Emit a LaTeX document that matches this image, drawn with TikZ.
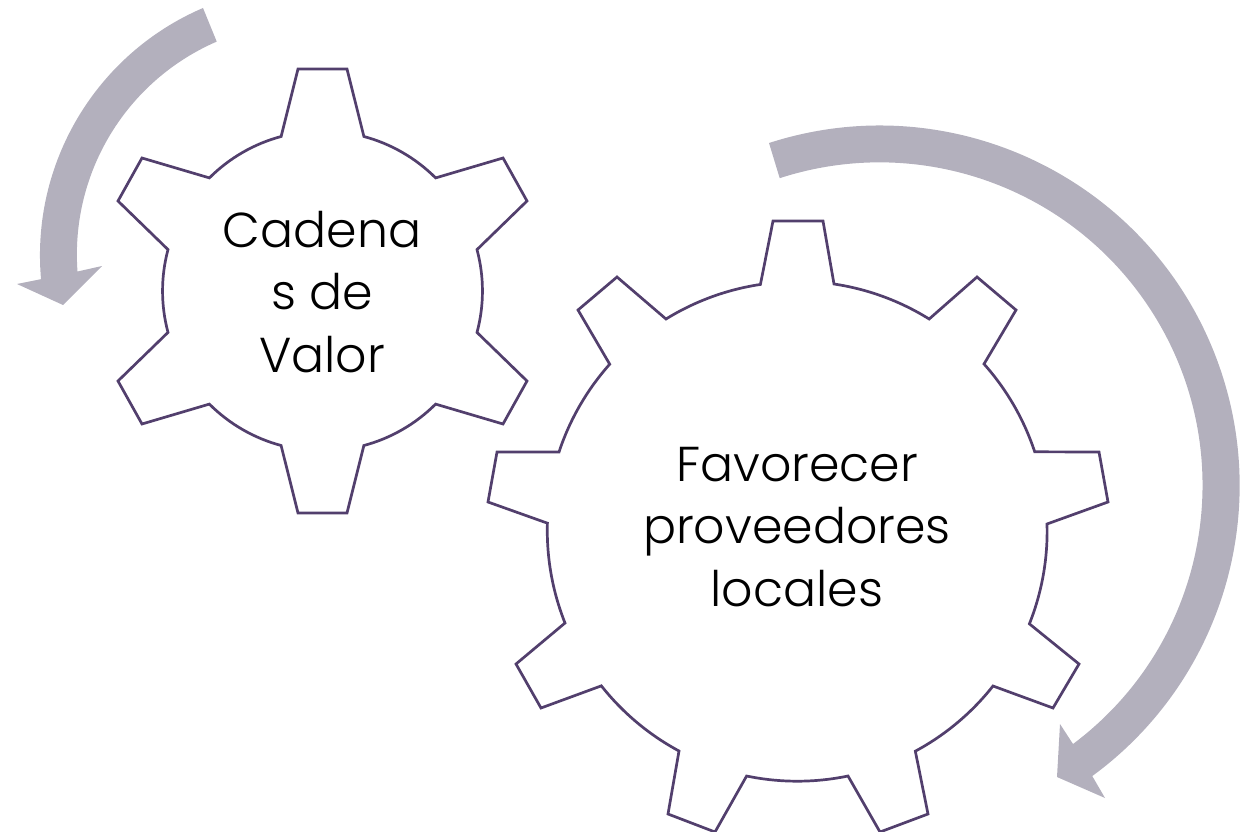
\documentclass[tikz,border=0pt]{standalone}
\usepackage{fontspec}
\setmainfont{Poppins Light}
\definecolor{gearline}{HTML}{523F6D}
\definecolor{arrowfill}{HTML}{B3B0BD}
\tikzset{
  gear/.style={draw=gearline,line width=2.7pt,line join=miter,fill=white},
  bigarrow/.style={fill=arrowfill,draw=none},
  geartext/.style={align=center,font=\fontsize{49}{62.5}\selectfont,text=black,inner sep=0pt}
}
\begin{document}
\begin{tikzpicture}[x=1pt,y=-1pt]
\useasboundingbox (0,0) rectangle (1244,832);
% arrows
\fill[bigarrow] (203,8) arc[start angle=246.8,end angle=174.9,radius=269] -- (17,284) -- (63,305) -- (102,266) -- (77.5,271.5) arc[start angle=175.8,end angle=246.6,radius=232] -- cycle;
\fill[bigarrow] (769,143) arc[start angle=-107.9,end angle=53.8,radius=360] -- (1105,798) -- (1057,777) -- (1060,724) -- (1073,744) arc[start angle=53.2,end angle=-108,radius=323] -- cycle;
% small gear
\draw[gear] (298,69) -- (347,69) -- (363.9,136.5) arc[start angle=-75,end angle=-45,radius=160]
 -- (503,158) -- (527,201) -- (477,249.6) arc[start angle=-15,end angle=15,radius=160]
 -- (527,381) -- (503,424) -- (435.6,404.1) arc[start angle=45,end angle=75,radius=160]
 -- (347,513) -- (298,513) -- (281.1,445.5) arc[start angle=105,end angle=135,radius=160]
 -- (142,424) -- (118,381) -- (168,332.4) arc[start angle=165,end angle=195,radius=160]
 -- (118,201) -- (142,158) -- (209.4,177.9) arc[start angle=225,end angle=255,radius=160] -- cycle;
% big gear
\draw[gear] (773,221) -- (823,221) -- (834,284) arc[start angle=-81.5,end angle=-58.1,radius=250]
 -- (977,277) -- (1016,310) -- (984,364) arc[start angle=-41.7,end angle=-18.3,radius=250]
 -- (1099,452) -- (1108,502) -- (1047,524) arc[start angle=-1.7,end angle=21.7,radius=250]
 -- (1079,664) -- (1053,708) -- (993,686) arc[start angle=38.3,end angle=61.7,radius=250]
 -- (928,814) -- (880,832) -- (848,776) arc[start angle=78.3,end angle=101.7,radius=250]
 -- (715,832) -- (668,814) -- (679,751) arc[start angle=118.3,end angle=141.7,radius=250]
 -- (541,708) -- (516,664) -- (565,623) arc[start angle=158.3,end angle=181.7,radius=250]
 -- (488,502) -- (497,452) -- (559,452) arc[start angle=198.3,end angle=221.7,radius=250]
 -- (578,310) -- (617,277) -- (666,319) arc[start angle=238.3,end angle=261.5,radius=250] -- cycle;
% labels
\node[geartext] (small) at (322,292) {Cadena\\s de\\Valor};
\node[geartext] (big) at (797,527) {Favorecer\\proveedores\\locales};
\end{tikzpicture}
\end{document}
